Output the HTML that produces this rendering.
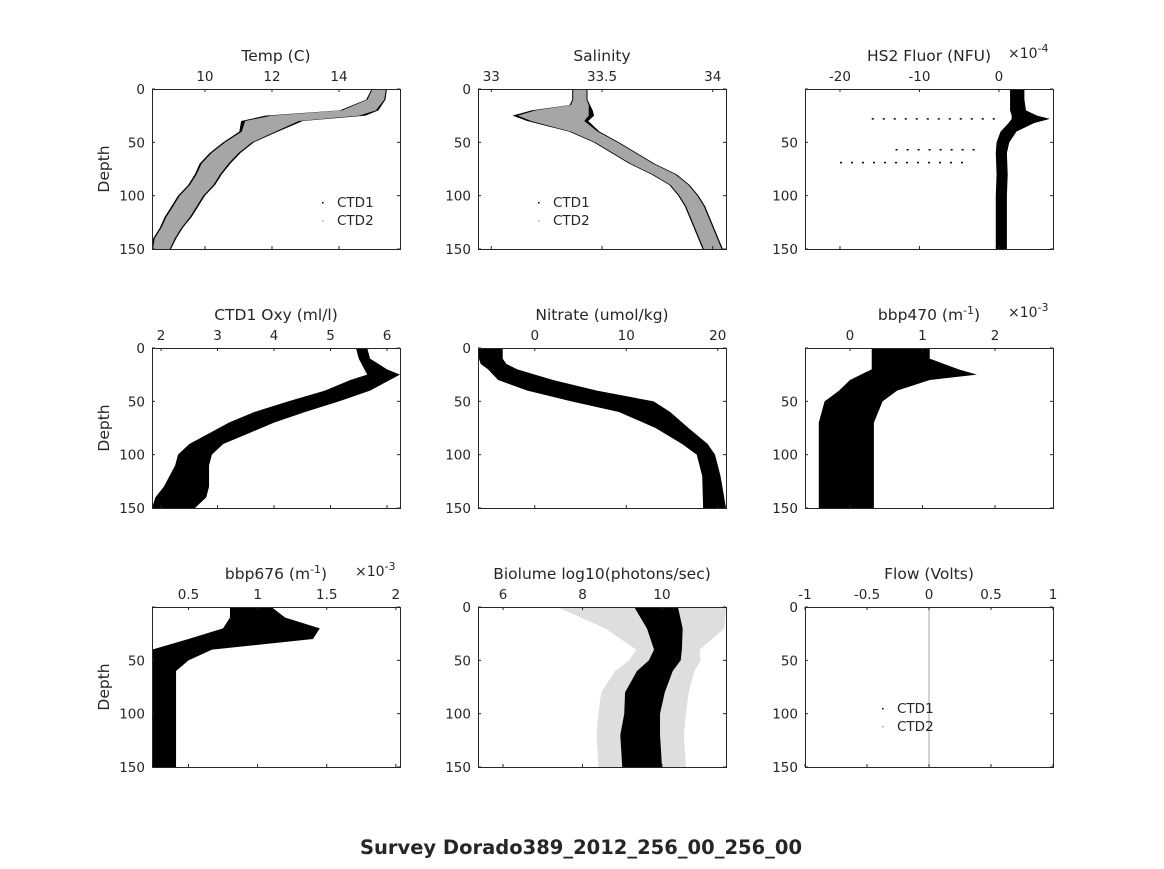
<!DOCTYPE html>
<html><head><meta charset="utf-8"><style>
body{margin:0;background:#fff}
text{font-family:"DejaVu Sans","Liberation Sans",sans-serif;fill:#262626}
</style></head><body>
<svg id="fig" width="1164" height="864" viewBox="0 0 1164 864" xmlns="http://www.w3.org/2000/svg">
<rect width="1164" height="864" fill="#fff"/>
<text x="581" y="854" text-anchor="middle" font-size="19.5" font-weight="bold" fill="#000">Survey Dorado389_2012_256_00_256_00</text>
</svg>
<script>
// ---- data arrays (depth in m, values in axis units) ----
const tempDepth=[0,10,20,25,30,40,50,60,70,80,90,100,110,120,130,140,150];
const tempCenter=[15.2,15.1,14.6,13.3,12.0,11.6,11.0,10.6,10.3,10.1,9.9,9.6,9.4,9.2,9.0,8.8,8.7];
const tempHalf=[0.2,0.25,0.5,1.3,0.8,0.5,0.4,0.4,0.4,0.35,0.35,0.35,0.35,0.35,0.3,0.3,0.25];
const salDepth=[0,10,15,20,25,30,40,50,60,70,80,90,100,110,120,130,140,150];
const salCenter=[33.40,33.40,33.40,33.32,33.28,33.30,33.42,33.52,33.60,33.68,33.78,33.85,33.89,33.92,33.94,33.96,33.98,34.0];
const salHalf=[0.03,0.03,0.04,0.12,0.16,0.12,0.06,0.05,0.05,0.05,0.05,0.04,0.04,0.04,0.04,0.04,0.04,0.04];
const fluDepth=[0,10,20,25,28,32,40,50,60,80,100,120,150];
const fluCenter=[2.3,2.3,2.4,3.2,4.0,2.8,1.2,0.5,0.3,0.4,0.3,0.3,0.3];
const fluHalf=[0.9,0.9,1.0,1.6,2.4,1.6,1.0,0.8,0.7,0.7,0.7,0.7,0.7];
const fluStreakDepth=[28,57,69];
const fluStreakFrom=[-16,-13,-20];
const fluStreakTo=[0,-3,-4];
const oxyDepth=[0,10,20,25,30,40,50,60,70,80,90,100,110,120,130,140,150];
const oxyCenter=[5.55,5.6,5.8,5.95,5.7,5.3,4.7,4.1,3.6,3.2,2.8,2.6,2.55,2.5,2.45,2.35,2.2];
const oxyHalf=[0.1,0.1,0.2,0.3,0.35,0.4,0.45,0.45,0.4,0.35,0.3,0.3,0.3,0.35,0.4,0.45,0.4];
const nitDepth=[0,10,15,20,30,40,50,60,75,90,100,120,150];
const nitCenter=[-4.8,-4.8,-4.5,-3.5,-1,3,8.5,12,15,17.5,18.7,19.3,19.8];
const nitHalf=[1.3,1.3,1.4,1.6,3,3.8,4.5,2.8,1.8,1.4,1.0,1.0,1.4];
const b470Depth=[0,10,20,25,30,40,50,70,100,150];
const b470Center=[0.7,0.7,0.9,0.95,0.55,0.25,0.05,-0.05,-0.05,-0.05];
const b470Half=[0.4,0.4,0.6,0.8,0.55,0.4,0.4,0.38,0.38,0.38];
const b676Depth=[0,10,20,30,40,50,60,100,150];
const b676Center=[0.95,1.0,1.1,0.95,0.45,0.37,0.32,0.32,0.32];
const b676Half=[0.15,0.2,0.35,0.45,0.22,0.13,0.09,0.09,0.09];
const bioDepth=[0,20,40,50,60,80,100,120,150];
const bioCenter=[9.85,10.07,10.15,10.07,9.82,9.57,9.5,9.45,9.5];
const bioHalf=[0.55,0.45,0.35,0.4,0.45,0.5,0.45,0.5,0.5];
const bioHalo=[2.5,1.5,0.8,0.9,1.0,1.1,1.1,1.1,1.1];
const yTicks=[0,50,100,150];
const panels=[
 {name:"temp",title:"Temp (C)",x:152,y:89,xmin:8.42,xmax:15.82,ticks:[10,12,14],tl:["10","12","14"],d:tempDepth,c:tempCenter,h:tempHalf,color:"#a6a6a6",back:true,ylab:true,y0:true,legend:[337,207]},
 {name:"salinity",title:"Salinity",x:478,y:89,xmin:32.94,xmax:34.06,ticks:[33,33.5,34],tl:["33","33.5","34"],d:salDepth,c:salCenter,h:salHalf,color:"#a6a6a6",back:true,y0:true,legend:[553,207]},
 {name:"hs2-fluor",title:"HS2 Fluor (NFU)",x:805,y:89,xmin:-24.4,xmax:6.8,ticks:[-20,-10,0],tl:["-20","-10","0"],d:fluDepth,c:fluCenter,h:fluHalf,color:"#000",exp:"-4",y0:false,streaks:true},
 {name:"oxygen",title:"CTD1 Oxy (ml/l)",x:152,y:348,xmin:1.84,xmax:6.23,ticks:[2,3,4,5,6],tl:["2","3","4","5","6"],d:oxyDepth,c:oxyCenter,h:oxyHalf,color:"#000",ylab:true,y0:true},
 {name:"nitrate",title:"Nitrate (umol/kg)",x:478,y:348,xmin:-6.2,xmax:20.9,ticks:[0,10,20],tl:["0","10","20"],d:nitDepth,c:nitCenter,h:nitHalf,color:"#000",y0:true},
 {name:"bbp470",title:"bbp470 (m",sup:"-1",x:805,y:348,xmin:-0.62,xmax:2.8,ticks:[0,1,2],tl:["0","1","2"],d:b470Depth,c:b470Center,h:b470Half,color:"#000",exp:"-3",y0:false},
 {name:"bbp676",title:"bbp676 (m",sup:"-1",x:152,y:607,xmin:0.236,xmax:2.03,ticks:[0.5,1,1.5,2],tl:["0.5","1","1.5","2"],d:b676Depth,c:b676Center,h:b676Half,color:"#000",exp:"-3",expx:355,ylab:true,y0:false},
 {name:"biolume",title:"Biolume log10(photons/sec)",x:478,y:607,xmin:5.37,xmax:11.61,ticks:[6,8,10],tl:["6","8","10"],d:bioDepth,c:bioCenter,h:bioHalf,halo:bioHalo,color:"#000",y0:true},
 {name:"flow",title:"Flow (Volts)",x:805,y:607,xmin:-1,xmax:1,ticks:[-1,-0.5,0,0.5,1],tl:["-1","-0.5","0","0.5","1"],color:"#000",flow:true,y0:true,legend:[897,713]}
];
const W=248,H=160,NS="http://www.w3.org/2000/svg";
const svg=document.getElementById('fig');
function mk(t,a,p){const e=document.createElementNS(NS,t);for(const k in a)e.setAttribute(k,a[k]);(p||svg).appendChild(e);return e;}
panels.forEach(p=>{
 const g=mk('g',{});
 
 
 const sx=v=>p.x+(v-p.xmin)/(p.xmax-p.xmin)*W;
 const sy=d=>p.y+d/150*H;
 mk('rect',{x:p.x,y:p.y,width:W,height:H,fill:'#fff'},g);
 const band=(c,h,fill,op)=>{
  let pts=[];
  for(let i=0;i<p.d.length;i++)pts.push(Math.max(p.x,sx(c[i]-h[i]))+','+sy(p.d[i]));
  for(let i=p.d.length-1;i>=0;i--)pts.push(Math.min(p.x+W,sx(c[i]+h[i]))+','+sy(p.d[i]));
  const e=mk('polygon',{points:pts.join(' '),fill:fill,'fill-opacity':op},g);
  
  
 };
 if(p.d){
  if(p.halo)band(p.c,p.halo,'#000',0.13);
  if(p.back)band(p.c,p.h.map(v=>v*1.15),'#000',1);
  band(p.c,p.h,p.color,1);
 }
 if(p.streaks){
  fluStreakDepth.forEach((d,i)=>{
   const s=mk('line',{x1:sx(fluStreakFrom[i]),x2:sx(fluStreakTo[i]),y1:sy(d),y2:sy(d),stroke:'#000','stroke-width':1.5,'stroke-dasharray':'2 9'},g);
   
   
  });
 }
 if(p.flow){const l=mk('line',{x1:sx(0),x2:sx(0),y1:p.y,y2:p.y+H,stroke:'#a6a6a6','stroke-width':1},g);
  }
 mk('rect',{x:p.x+0.5,y:p.y+0.5,width:W,height:H,fill:'none',stroke:'#262626','stroke-width':1},g);
 p.ticks.forEach((t,i)=>{
  const X=sx(t);
  mk('line',{x1:X,x2:X,y1:p.y,y2:p.y+3,stroke:'#262626'},g);
  mk('line',{x1:X,x2:X,y1:p.y+H,y2:p.y+H-3,stroke:'#262626'},g);
  const tx=mk('text',{x:X,y:p.y-8,'text-anchor':'middle','font-size':13.5},g);tx.textContent=p.tl[i];
  
 });
 yTicks.forEach(t=>{
  const Y=sy(t);
  mk('line',{x1:p.x,x2:p.x+3,y1:Y,y2:Y,stroke:'#262626'},g);
  mk('line',{x1:p.x+W,x2:p.x+W-3,y1:Y,y2:Y,stroke:'#262626'},g);
  if(t===0&&!p.y0)return;
  const tx=mk('text',{x:p.x-7,y:Y+5,'text-anchor':'end','font-size':13.5},g);tx.textContent=t;
  
 });
 const ti=mk('text',{x:p.x+W/2,y:p.y-28,'text-anchor':'middle','font-size':15.5},g);
 
 ti.textContent=p.title;
 if(p.sup){const s=mk('tspan',{dy:-6,'font-size':11},ti);s.textContent=p.sup;const r=mk('tspan',{dy:6},ti);r.textContent=')';}
 if(p.exp){const ex=mk('text',{x:p.expx||1008,y:p.y-31,'font-size':14},g);
  
  ex.textContent='\u00d710';const s=mk('tspan',{dy:-6,'font-size':11},ex);s.textContent=p.exp;}
 if(p.ylab){const yl=mk('text',{x:0,y:0,'text-anchor':'middle','font-size':15.5,transform:`translate(109,${p.y+H/2}) rotate(-90)`},g);
  yl.textContent='Depth';}
 if(p.legend){const [lx,ly]=p.legend;
  ['CTD1','CTD2'].forEach((n,i)=>{
   const le=mk('g',{},g);
   mk('rect',{x:lx-15,y:ly+i*18-5,width:1.5,height:1.5,fill:i?'#a6a6a6':'#000'},le);
   const t=mk('text',{x:lx,y:ly+i*18,'font-size':13.5,fill:'#000'},le);t.textContent=n;});}
});
</script>
</body></html>
